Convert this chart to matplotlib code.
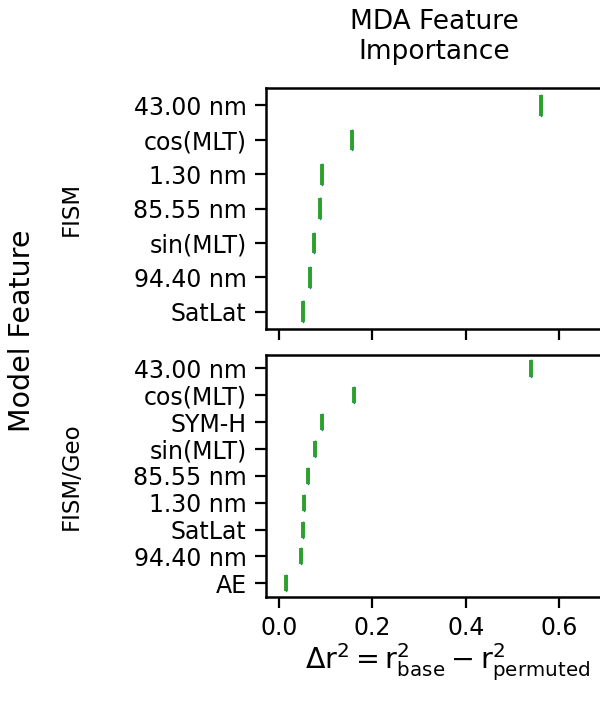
import matplotlib
matplotlib.use('Agg')
import matplotlib.pyplot as plt

# MDA feature importance (delta r^2), ordered top to bottom
fism_features = ['43.00 nm', 'cos(MLT)', '1.30 nm', '85.55 nm', 'sin(MLT)', '94.40 nm', 'SatLat']
fism_values = [0.561, 0.156, 0.092, 0.087, 0.075, 0.066, 0.051]

geo_features = ['43.00 nm', 'cos(MLT)', 'SYM-H', 'sin(MLT)', '85.55 nm', '1.30 nm', 'SatLat', '94.40 nm', 'AE']
geo_values = [0.540, 0.161, 0.092, 0.077, 0.062, 0.053, 0.051, 0.047, 0.014]

x_ticks = [0.0, 0.2, 0.4, 0.6]

fig = plt.figure(figsize=(6, 7.04), dpi=100)
ax1 = fig.add_axes([0.4433, 0.5327, 0.5600, 0.3419])
ax2 = fig.add_axes([0.4433, 0.1524, 0.5600, 0.3433], sharex=ax1)


def draw(ax, feats, vals, label):
    pos = list(range(len(vals)))
    ax.boxplot([[v] for v in vals], positions=pos, orientation='horizontal',
               widths=0.6, showcaps=False, showfliers=False,
               boxprops=dict(color='C0', linewidth=1),
               whiskerprops=dict(color='C0', linewidth=1),
               medianprops=dict(color='#2ca02c', linewidth=2.8))
    ax.set_yticks(pos)
    ax.set_yticklabels(feats)
    ax.set_ylim(len(vals) - 0.5, -0.5)
    ax.set_ylabel(label, fontsize=16.5)
    ax.yaxis.set_label_coords(-0.545, 0.5)
    ax.tick_params(labelsize=17, length=8, width=1.6, pad=6)
    for s in ax.spines.values():
        s.set_linewidth(1.8)


draw(ax1, fism_features, fism_values, 'FISM')
draw(ax2, geo_features, geo_values, 'FISM/Geo')

ax1.set_xlim(-0.0279, 0.692)
ax2.set_xticks(x_ticks)
ax2.set_xticklabels(['%.1f' % t for t in x_ticks])
ax1.tick_params(labelbottom=False)

ax1.set_title('MDA Feature\nImportance', fontsize=19, pad=21)
ax2.set_xlabel(r'$\Delta \mathrm{r}^2 = \mathrm{r}^2_{\mathrm{base}} - \mathrm{r}^2_{\mathrm{permuted}}$',
               fontsize=20.5, labelpad=1)
ax2.xaxis.label.set_x(0.54)
fig.text(0.037, 0.5305, 'Model Feature', fontsize=20.5, rotation=90, ha='center', va='center')

fig.savefig('out.png', dpi=100)
